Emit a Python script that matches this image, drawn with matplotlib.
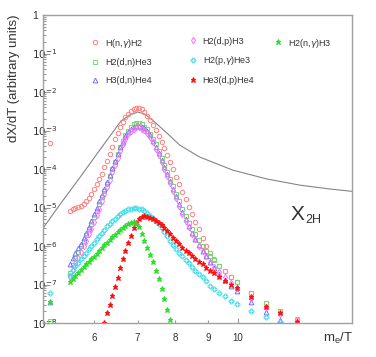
import numpy as np
import matplotlib
matplotlib.use('Agg')
import matplotlib.pyplot as plt
from matplotlib.legend import Legend
from matplotlib.ticker import FixedLocator, FixedFormatter, FuncFormatter, LogLocator, NullFormatter

plt.rcParams['font.family'] = ['Liberation Sans', 'DejaVu Sans']

# sampled m_e/T values (shared by all reactions)
x_grid = [5.12, 5.50, 5.56, 5.61, 5.67, 5.72, 5.78, 5.83, 5.89, 5.94,
          5.99, 6.05, 6.11, 6.17, 6.22, 6.28, 6.34, 6.40, 6.46, 6.52,
          6.58, 6.64, 6.70, 6.77, 6.83, 6.90, 6.97, 7.03, 7.10, 7.17,
          7.24, 7.32, 7.39, 7.46, 7.54, 7.62, 7.70, 7.78, 7.86, 7.94,
          8.03, 8.12, 8.21, 8.30, 8.39, 8.49, 8.59, 8.70, 8.82, 8.94,
          9.06, 9.19, 9.35, 9.54, 9.75, 9.97, 10.47, 11.04, 11.61, 12.35]

# log10(dX/dT)
log_h_ng_h2 = [-3.33, -5.08, -5.05, -5.02, -4.99, -4.95, -4.90, -4.83, -4.75, -4.66,
               -4.53, -4.39, -4.26, -4.12, -3.96, -3.78, -3.60, -3.42, -3.23, -3.06,
               -2.91, -2.78, -2.66, -2.57, -2.49, -2.44, -2.42, -2.42, -2.45, -2.52,
               -2.62, -2.74, -2.86, -2.99, -3.13, -3.29, -3.45, -3.64, -3.82, -4.01,
               -4.21, -4.40, -4.60, -4.79, -4.99, -5.18, -5.38, -5.57, -5.78, -5.99,
               -6.17, -6.35, -6.51, -6.65, -6.81, -6.94, -7.22, -7.48, -7.69, -7.91]
log_h2_dn_he3 = [-7.94, -6.70, -6.49, -6.31, -6.16, -6.01, -5.86, -5.71, -5.57, -5.42,
                 -5.25, -5.08, -4.91, -4.74, -4.56, -4.38, -4.19, -4.00, -3.81, -3.61,
                 -3.43, -3.26, -3.12, -3.00, -2.91, -2.84, -2.81, -2.81, -2.84, -2.90,
                 -2.97, -3.08, -3.21, -3.36, -3.53, -3.71, -3.90, -4.08, -4.26, -4.45,
                 -4.65, -4.84, -5.04, -5.22, -5.40, -5.56, -5.70, -5.84, -5.99, -6.13,
                 -6.25, -6.36, -6.51, -6.65, -6.81, -6.94, -7.23, -7.49, -7.69, -7.90]
# grid points 0..58
log_h3_dn_he4 = [-7.45, -6.47, -6.32, -6.18, -6.06, -5.94, -5.79, -5.65, -5.51, -5.35,
                 -5.18, -5.01, -4.84, -4.68, -4.51, -4.34, -4.16, -3.97, -3.79, -3.61,
                 -3.44, -3.29, -3.14, -3.04, -2.96, -2.91, -2.88, -2.88, -2.90, -2.94,
                 -3.01, -3.12, -3.26, -3.42, -3.58, -3.77, -3.95, -4.13, -4.31, -4.51,
                 -4.70, -4.91, -5.12, -5.30, -5.48, -5.65, -5.82, -5.97, -6.13, -6.27,
                 -6.42, -6.57, -6.73, -6.88, -7.04, -7.18, -7.45, -7.71, -7.92]
# grid points 1..59
log_h2_dp_h3 = [-6.81, -6.62, -6.45, -6.30, -6.16, -6.00, -5.86, -5.70, -5.55,
                -5.38, -5.19, -5.03, -4.84, -4.66, -4.48, -4.29, -4.09, -3.90, -3.71,
                -3.53, -3.36, -3.22, -3.09, -3.00, -2.95, -2.92, -2.92, -2.95, -2.99,
                -3.06, -3.17, -3.31, -3.47, -3.64, -3.82, -4.00, -4.18, -4.36, -4.56,
                -4.75, -4.96, -5.16, -5.34, -5.51, -5.68, -5.83, -5.99, -6.13, -6.27,
                -6.42, -6.55, -6.68, -6.81, -6.96, -7.09, -7.34, -7.58, -7.77, -7.97]
# grid points 0..58
log_h2_pg_he3 = [-7.21, -6.75, -6.62, -6.52, -6.43, -6.35, -6.26, -6.17, -6.08, -6.00,
                 -5.91, -5.83, -5.75, -5.66, -5.58, -5.49, -5.42, -5.35, -5.29, -5.22,
                 -5.17, -5.12, -5.08, -5.05, -5.03, -5.01, -5.01, -5.03, -5.05, -5.09,
                 -5.14, -5.21, -5.27, -5.35, -5.43, -5.52, -5.64, -5.75, -5.87, -5.97,
                 -6.08, -6.17, -6.27, -6.36, -6.45, -6.55, -6.64, -6.73, -6.81, -6.91,
                 -7.03, -7.12, -7.21, -7.31, -7.42, -7.51, -7.68, -7.85, -7.97]
# grid points 0..38
log_h2_ng_h3 = [-7.45, -6.93, -6.86, -6.78, -6.70, -6.63, -6.55, -6.48, -6.42, -6.35,
                -6.28, -6.21, -6.13, -6.06, -5.98, -5.91, -5.84, -5.77, -5.71, -5.64,
                -5.58, -5.52, -5.47, -5.42, -5.39, -5.38, -5.42, -5.51, -5.69, -5.87,
                -6.05, -6.23, -6.42, -6.65, -6.86, -7.12, -7.38, -7.66, -7.92]
# grid points 14..59
log_he3_dp_he4 = [-7.99, -7.75, -7.52, -7.30, -7.06, -6.82,
                  -6.57, -6.35, -6.13, -5.91, -5.73, -5.54, -5.39, -5.30, -5.25, -5.23,
                  -5.24, -5.27, -5.31, -5.34, -5.39, -5.45, -5.53, -5.61, -5.70, -5.79,
                  -5.88, -5.96, -6.04, -6.12, -6.19, -6.27, -6.35, -6.42, -6.48, -6.56,
                  -6.64, -6.71, -6.81, -6.91, -7.01, -7.10, -7.32, -7.58, -7.75, -7.97]

# X_2H abundance curve
x_line = [4.99, 5.29, 5.69, 6.11, 6.60, 6.80, 7.00, 7.17, 7.38, 7.76,
          8.13, 8.73, 9.82, 11.09, 12.47, 13.88, 15.0]
log_line = [-5.56, -4.96, -4.24, -3.52, -2.75, -2.60, -2.52, -2.57, -2.73, -3.06,
            -3.38, -3.69, -4.03, -4.26, -4.42, -4.52, -4.58]

xg = np.array(x_grid)
series = [
    ('H(n,$\\gamma$)H2', xg, log_h_ng_h2, 'o', '#ff7f7f', False, 3.2),
    ('H2(d,n)He3', xg, log_h2_dn_he3, 's', '#70dd70', False, 3.0),
    ('H3(d,n)He4', xg[:59], log_h3_dn_he4, '^', '#6f6fff', False, 3.4),
    ('H2(d,p)H3', xg[1:], log_h2_dp_h3, 'd', '#ff70ff', False, 3.4),
    ('H2(p,$\\gamma$)He3', xg[:59], log_h2_pg_he3, 'P', '#40dde8', False, 3.5),
    ('He3(d,p)He4', xg[14:], log_he3_dp_he4, '*', '#ff1010', True, 3.7),
    ('H2(n,$\\gamma$)H3', xg[:39], log_h2_ng_h3, '*', '#30dd30', True, 3.7),
]

fig = plt.figure(figsize=(3.76, 3.57), dpi=100)
ax = fig.add_axes([43 / 376, 1 - 323 / 357, 309 / 376, 308 / 357])

ax.plot(x_line, 10.0 ** np.array(log_line), color='#858585', lw=0.8, zorder=1)

handles = {}
for label, xs, ly, mk, col, filled, ms in series:
    h, = ax.plot(xs, 10.0 ** np.array(ly), ls='none', marker=mk, ms=ms,
                 mfc=col if filled else 'none', mec=col, mew=0.7, label=label, zorder=2)
    handles[label] = h

ax.set_xscale('log')
ax.set_yscale('log')
ax.set_xlim(5, 15)
ax.set_ylim(1e-8, 1)

ax.xaxis.set_major_locator(FixedLocator([10]))
ax.xaxis.set_major_formatter(FixedFormatter(['10']))
ax.xaxis.set_minor_locator(FixedLocator([6, 7, 8, 9]))
ax.xaxis.set_minor_formatter(FixedFormatter(['6', '7', '8', '9']))
ax.yaxis.set_major_locator(FixedLocator(10.0 ** np.arange(-8, 1)))
ax.yaxis.set_major_formatter(FuncFormatter(
    lambda v, p: '1' if v >= 1 else '$10^{%d}$' % round(np.log10(v))))
ax.yaxis.set_minor_locator(LogLocator(base=10, subs=np.arange(2, 10), numticks=20))
ax.yaxis.set_minor_formatter(NullFormatter())

ax.tick_params(which='both', direction='in', color='#999999', labelcolor='#333333',
               top=False, right=False, width=0.8)
ax.tick_params(axis='y', which='major', length=5, pad=8, labelsize=7.5)
ax.tick_params(axis='y', which='minor', length=2.5)
ax.tick_params(axis='x', which='major', length=3.6, pad=7, labelsize=7)
ax.tick_params(axis='x', which='minor', length=2, pad=7, labelsize=7)
for s in ax.spines.values():
    s.set_color('#a0a0a0')
    s.set_linewidth(1.0)
plt.setp(ax.yaxis.get_majorticklabels(), ha='left')

# legend, three columns
cols = [(['H(n,$\\gamma$)H2', 'H2(d,n)He3', 'H3(d,n)He4'], 0.1537),
        (['H2(d,p)H3', 'H2(p,$\\gamma$)He3', 'He3(d,p)He4'], 0.470),
        (['H2(n,$\\gamma$)H3'], 0.747)]
for labels, xpos in cols:
    leg = Legend(ax, [handles[l] for l in labels], labels, loc='upper left',
                 bbox_to_anchor=(xpos, 0.930), frameon=False, fontsize=6.5,
                 handlelength=1.0, handletextpad=0.6, labelspacing=0.97,
                 borderpad=0, borderaxespad=0, labelcolor='#333333')
    ax.add_artist(leg)

fig.text(14.5 / 376, 1 - 15 / 357, 'dX/dT (arbitrary units)', rotation=90,
         ha='center', va='top', fontsize=9.5, color='#333333')
fig.text(353 / 376, 1 - 342 / 357, '$\\mathregular{m_e/T}$', ha='right',
         va='baseline', fontsize=9.5, color='#333333')
fig.text(291 / 376, 1 - 220 / 357, 'X', ha='left', va='baseline', fontsize=15,
         color='#333333')
fig.text(305 / 376, 1 - 223.3 / 357, '2H', ha='left', va='baseline', fontsize=9,
         color='#333333')

fig.savefig('out.png', dpi=100)
